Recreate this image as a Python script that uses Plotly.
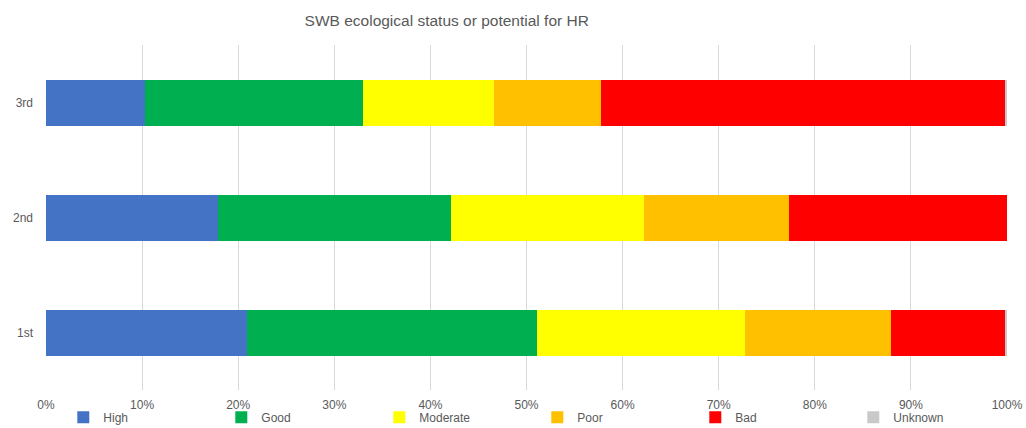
import plotly.graph_objects as go

# rows of the chart (bottom to top)
periods = ["1st", "2nd", "3rd"]

# share of water bodies per status class (%)
high = [20.9, 17.9, 10.3]
good = [30.2, 24.2, 22.7]
moderate = [21.6, 20.1, 13.6]
poor = [15.2, 15.1, 11.2]
bad = [11.9, 22.7, 42.0]
unknown = [0.2, 0.0, 0.2]

series = [
    ("High", high, "#4472c4"),
    ("Good", good, "#00b050"),
    ("Moderate", moderate, "#ffff00"),
    ("Poor", poor, "#ffc000"),
    ("Bad", bad, "#ff0000"),
    ("Unknown", unknown, "#c9c9c9"),
]

fig = go.Figure()
for name, vals, col in series:
    fig.add_trace(go.Bar(
        y=periods, x=[v / 100 for v in vals], name=name, orientation="h",
        marker=dict(color=col, line=dict(width=0)),
    ))

fig.update_layout(
    barmode="stack",
    bargap=0.6,
    width=1026, height=428,
    margin=dict(l=46, r=19, t=45, b=38),
    paper_bgcolor="white", plot_bgcolor="white",
    font=dict(family="Liberation Sans, Arial, sans-serif", size=12, color="#595959"),
    title=dict(text="SWB ecological status or potential for HR", x=0.417, xref="paper",
               xanchor="center", y=0.953, yanchor="middle",
               font=dict(size=15.5, color="#595959")),
    legend=dict(orientation="h", x=0.018, xanchor="left", xref="paper",
                y=0.025, yanchor="middle", yref="container",
                entrywidth=113, font=dict(size=12, color="#595959"),
                itemwidth=30, traceorder="normal", bgcolor="rgba(0,0,0,0)"),
    showlegend=True,
)
fig.update_xaxes(range=[0, 1.0], tickformat=".0%", dtick=0.1, showgrid=True,
                 gridcolor="#d9d9d9", gridwidth=1, zeroline=False, showline=False,
                 ticklabelstandoff=6, automargin=False)
fig.update_yaxes(showgrid=False, showline=False, ticklabelstandoff=12, automargin=False)

# drop the default body margin so the figure sits at the page corner
fig.write_html("out.html", config={"displayModeBar": False},
               post_script="document.body.style.margin='0';document.body.style.overflow='hidden';")
